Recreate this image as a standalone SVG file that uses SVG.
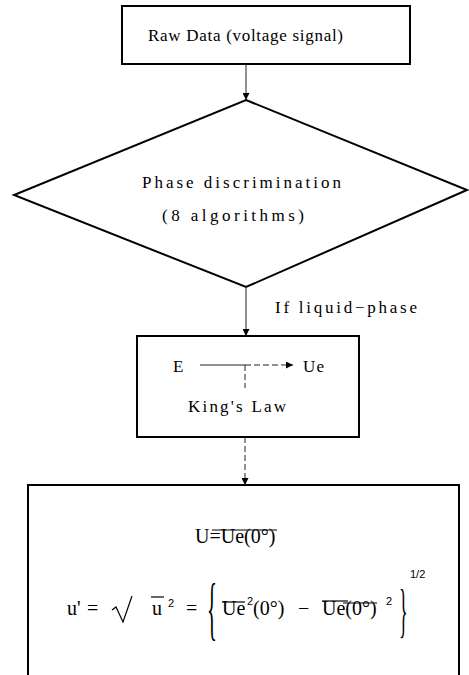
<svg xmlns="http://www.w3.org/2000/svg" width="469" height="675" viewBox="0 0 469 675">
<defs>
<marker id="ah" viewBox="0 0 10 10" refX="10" refY="5" markerWidth="7" markerHeight="7" markerUnits="userSpaceOnUse" orient="auto">
<path d="M0,0 L10,5 L0,10 Z" fill="#000"/>
</marker>
<style>
.box{fill:none;stroke:#000;stroke-width:2}
.lbl{font-family:"Liberation Serif","Times New Roman",serif;font-size:17px;fill:#000}
.math{font-family:"Liberation Serif","Times New Roman",serif;font-size:20px;fill:#000}
.brace{font-family:"Liberation Serif","Times New Roman",serif;fill:#000}
.sup{font-family:"Liberation Sans",Arial,sans-serif;font-size:11px;fill:#000}
.conn{fill:none;stroke:#222;stroke-width:1}
.dash{stroke-dasharray:6,3}
.ol{stroke:#000;stroke-width:1.2}
</style>
</defs>
<rect width="469" height="675" fill="#fff"/>

<g id="raw-data">
<rect class="box" x="122" y="6" width="288" height="58"/>
<text class="lbl" x="148" y="41" textLength="195" lengthAdjust="spacing">Raw Data (voltage signal)</text>
</g>

<g id="phase-discrimination">
<polygon class="box" points="246,100 467,190 246,287 14,195"/>
<text class="lbl" x="142" y="188" textLength="199" lengthAdjust="spacing">Phase discrimination</text>
<text class="lbl" x="162" y="221" textLength="142" lengthAdjust="spacing">(8 algorithms)</text>
</g>

<g id="kings-law">
<rect class="box" x="137" y="336" width="222" height="101"/>
<text class="lbl" x="173" y="372">E</text>
<line class="conn" x1="200" y1="365" x2="245" y2="365"/>
<line class="conn dash" x1="245" y1="365" x2="293" y2="365" marker-end="url(#ah)"/>
<line class="conn dash" x1="245" y1="365" x2="245" y2="388"/>
<text class="lbl" x="303" y="372" textLength="21" lengthAdjust="spacing">Ue</text>
<text class="lbl" x="188" y="412" textLength="98" lengthAdjust="spacing">King's Law</text>
</g>

<g id="result">
<path class="box" d="M28,675 V485 H459 V675"/>
<text class="math" x="195" y="543">U=Ue(0°)</text>
<line class="ol" x1="212" y1="530" x2="277" y2="530"/>

<text class="math" x="67" y="615">u'</text>
<text class="math" x="87" y="615">=</text>
<path d="M112,610 L116,607 L123,622 L132,596" fill="none" stroke="#000" stroke-width="1.2"/>
<line class="ol" x1="151" y1="597" x2="164" y2="597"/>
<text class="math" x="152" y="615">u</text>
<text class="sup" x="168" y="607">2</text>
<text class="math" x="186" y="615">=</text>
<text class="brace" transform="translate(207,632) scale(0.3,1)" style="font-size:69px">{</text>
<line class="ol" x1="222" y1="602" x2="245" y2="602"/>
<text class="math" x="222" y="615">Ue</text>
<text class="sup" x="247" y="605">2</text>
<text class="math" x="253" y="615">(0°)</text>
<text class="math" x="298" y="615">−</text>
<line class="ol" x1="322" y1="601" x2="348" y2="601"/>
<line class="ol" x1="343" y1="603" x2="377" y2="603"/>
<text class="math" x="322" y="615">Ue(0°)</text>
<text class="sup" x="386" y="605">2</text>
<text class="brace" transform="translate(399,630) scale(0.3,1)" style="font-size:60px">}</text>
<text class="sup" x="410" y="578">1/2</text>
</g>

<g id="connectors">
<line class="conn" x1="246" y1="64" x2="246" y2="100" marker-end="url(#ah)"/>
<line class="conn" x1="246" y1="287" x2="246" y2="336" marker-end="url(#ah)"/>
<text class="lbl" x="275" y="313" textLength="142" lengthAdjust="spacing">If liquid−phase</text>
<line class="conn dash" x1="245" y1="437" x2="245" y2="485" marker-end="url(#ah)"/>
</g>
</svg>
